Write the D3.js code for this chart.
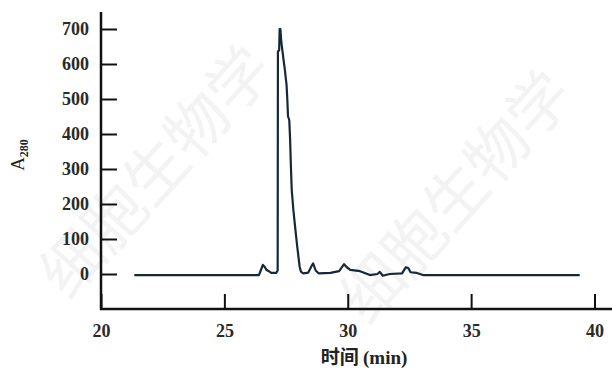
<!DOCTYPE html>
<html>
<head>
<meta charset="utf-8">
<script src="https://cdn.jsdelivr.net/npm/d3@7"></script>
<style>
  body { margin: 0; background: #fff; }
  svg { display: block; }
</style>
</head>
<body>
<svg id="chart" width="612" height="371"></svg>
<script>
// elution time (min) and A280
var times = [21.35, 26.40, 26.50, 26.56, 26.64, 26.70, 26.80, 26.90, 27.10, 27.16,
  27.17, 27.22, 27.24, 27.27, 27.30, 27.33, 27.42, 27.44, 27.52, 27.55,
  27.58, 27.63, 27.66, 27.70, 27.73, 27.80, 27.88, 27.95, 28.05, 28.10,
  28.20, 28.40, 28.55, 28.60, 28.70, 28.82, 29.30, 29.65, 29.85, 29.95,
  30.10, 30.50, 30.90, 31.20, 31.30, 31.42, 31.70, 32.20, 32.35, 32.45,
  32.55, 32.80, 33.05, 39.40];
var a280 = [-3, -3, 15, 26, 20, 12, 8, 3, 3, 10,
  635, 640, 700, 700, 670, 650, 600, 590, 540, 500,
  450, 440, 392, 300, 240, 180, 126, 80, 21, 7,
  2, 4, 25, 30, 10, 2, 3, 8, 28, 20,
  12, 8, -3, 0, 6, -5, 0, 2, 19, 17,
  5, 3, -3, -3];
var xTicks = [20, 25, 30, 35, 40];
var yTicks = [0, 100, 200, 300, 400, 500, 600, 700];
var watermark = "细胞生物学";

var svg = d3.select("#chart");
var serif = "'Liberation Serif', 'Times New Roman', serif";

var x = d3.scaleLinear().domain([20, 40]).range([101, 594.5]);
var y = d3.scaleLinear().domain([0, 700]).range([274, 29]);

// faint watermark
[[160, 175], [460, 200]].forEach(function (p) {
  svg.append("text")
    .attr("transform", "translate(" + p[0] + "," + p[1] + ") rotate(-48)")
    .attr("text-anchor", "middle")
    .attr("dominant-baseline", "middle")
    .style("font-family", "'Noto Sans CJK SC'")
    .style("font-size", "62px")
    .style("fill", "#f3f3f3")
    .text(watermark);
});

var data = times.map(function (t, i) { return { t: t, v: a280[i] }; });

svg.append("path")
  .datum(data)
  .attr("d", d3.line().x(d => x(d.t)).y(d => y(d.v)))
  .style("fill", "none")
  .style("stroke", "#15283a")
  .style("stroke-width", 2.2)
  .style("stroke-linejoin", "round");

// axes with inward ticks
var gx = svg.append("g")
  .attr("transform", "translate(0,309)")
  .call(d3.axisBottom(x).tickValues(xTicks).tickSizeInner(-15).tickSizeOuter(0).tickPadding(15));
var gy = svg.append("g")
  .attr("transform", "translate(101,0)")
  .call(d3.axisLeft(y).tickValues(yTicks).tickSizeInner(-16).tickSizeOuter(0).tickPadding(12));

[gx, gy].forEach(function (g) {
  g.select(".domain").remove();
  g.selectAll("line").style("stroke", "#111").style("stroke-width", 2);
  g.selectAll("text")
    .style("font-family", serif)
    .style("font-size", "18px")
    .style("font-weight", "bold")
    .style("fill", "#2a2a2a");
});

svg.append("line").attr("x1", 100).attr("x2", 612).attr("y1", 309).attr("y2", 309)
  .style("stroke", "#111").style("stroke-width", 2.5);
svg.append("line").attr("x1", 101).attr("x2", 101).attr("y1", 12).attr("y2", 310)
  .style("stroke", "#111").style("stroke-width", 2.5);

// axis titles
var yl = svg.append("text")
  .attr("transform", "translate(24,155) rotate(-90)")
  .attr("text-anchor", "middle")
  .style("font-family", serif)
  .style("font-size", "19px")
  .style("fill", "#222");
yl.append("tspan").text("A");
yl.append("tspan").attr("dy", 4).style("font-size", "12px").style("font-weight", "bold").text("280");

var xl = svg.append("text")
  .attr("x", 364).attr("y", 364)
  .attr("text-anchor", "middle")
  .style("font-size", "19px")
  .style("font-weight", "bold")
  .style("fill", "#222");
xl.append("tspan").style("font-family", "'Noto Sans CJK SC'").text("时间 ");
xl.append("tspan").style("font-family", serif).text("(min)");
</script>
</body>
</html>
